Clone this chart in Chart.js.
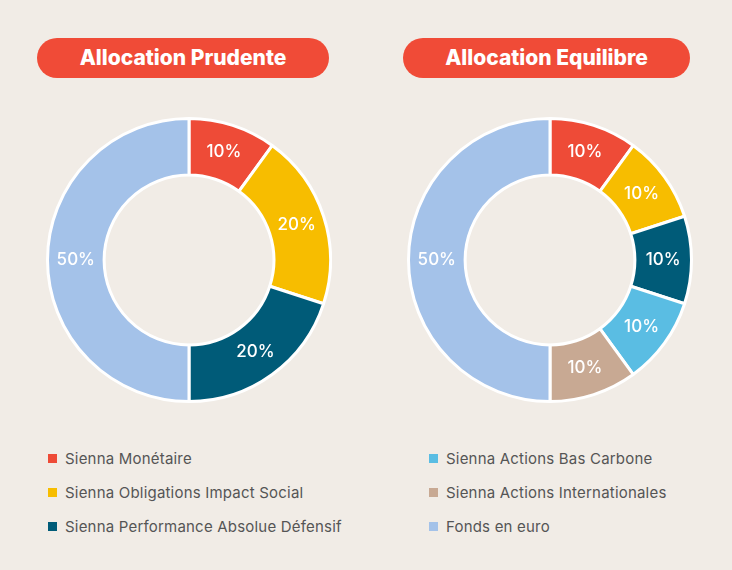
<!DOCTYPE html>
<html><head><meta charset="utf-8">
<script src="https://cdn.jsdelivr.net/npm/chart.js@4"></script>
<style>
body{margin:0;width:732px;height:570px;background:#F1ECE6;position:relative;font-family:Inter,"Open Sans",sans-serif;overflow:hidden}
.pill{position:absolute;top:38px;height:40px;border-radius:20px;background:#F04B37;color:#fff;font-weight:800;font-size:21px;line-height:40px;text-align:center}
.c{position:absolute;top:117px;width:286px;height:286px}
.lg{position:absolute;font-size:15px;color:#555;letter-spacing:0.2px}
.lg span{display:inline-block;width:9px;height:9px;margin-right:8px;vertical-align:1px}
</style></head><body>
<div class="pill" style="left:37px;width:292px">Allocation Prudente</div>
<div class="pill" style="left:403px;width:287px">Allocation Equilibre</div>
<div class="c" style="left:46px"><canvas id="a"></canvas></div>
<div class="c" style="left:407px"><canvas id="b"></canvas></div>
<div id="legend"></div>
<script>
const legendNames=["Sienna Monétaire","Sienna Obligations Impact Social","Sienna Performance Absolue Défensif","Sienna Actions Bas Carbone","Sienna Actions Internationales","Fonds en euro"];
const legendColors=["#EE4B37","#F7BD00","#005B78","#5ABDE3","#C8A993","#A4C2E9"];
const prudenteValues=[10,20,20,50];
const prudenteColors=["#EE4B37","#F7BD00","#005B78","#A4C2E9"];
const equilibreValues=[10,10,10,10,10,50];
const equilibreColors=["#EE4B37","#F7BD00","#005B78","#5ABDE3","#C8A993","#A4C2E9"];
const lp=[[52,452],[52,486],[52,520],[433,452],[433,486],[433,520]];
let h='';legendNames.forEach((n,i)=>{h+=`<div class="lg" style="left:${lp[i][0]-4}px;top:${lp[i][1]-3}px"><span style="background:${legendColors[i]}"></span>${n}</div>`});
document.getElementById('legend').innerHTML=h;
const labels={id:'lbl',afterDatasetsDraw(c){const x=c.ctx;x.save();x.fillStyle='#fff';x.font='500 17px Inter, sans-serif';x.textAlign='center';x.textBaseline='middle';
c.getDatasetMeta(0).data.forEach((a,i)=>{const p=a.tooltipPosition();x.fillText(c.data.datasets[0].data[i]+'%',p.x,p.y)});x.restore();}};
function mk(id,v,col){new Chart(document.getElementById(id),{type:'doughnut',data:{labels:v.map((_,i)=>i),datasets:[{data:v,backgroundColor:col,borderColor:'#fff',borderWidth:3}]},
options:{responsive:false,animation:false,cutout:'60%',plugins:{legend:{display:false},tooltip:{enabled:false}}},plugins:[labels]});}
document.getElementById('a').width=286;document.getElementById('a').height=286;
document.getElementById('b').width=286;document.getElementById('b').height=286;
mk('a',prudenteValues,prudenteColors);mk('b',equilibreValues,equilibreColors);
</script></body></html>
